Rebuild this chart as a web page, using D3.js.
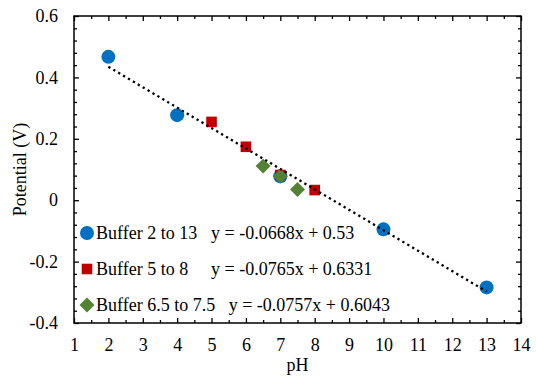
<!DOCTYPE html>
<html>
<head>
<meta charset="utf-8">
<script src="https://cdn.jsdelivr.net/npm/d3@7"></script>
<style>
  html, body { margin: 0; padding: 0; background: #fff; }
  svg { display: block; }
</style>
</head>
<body>
<svg id="chart" width="536" height="377"></svg>
<script>
// pH / potential readings for each buffer series
const wideBufferPH = [2, 4, 7, 10, 13];
const wideBufferV  = [0.467, 0.277, 0.078, -0.095, -0.284];
const midBufferPH  = [5, 6, 7, 8];
const midBufferV   = [0.255, 0.174, 0.082, 0.033];
const narrowBufferPH = [6.5, 7, 7.5];
const narrowBufferV  = [0.111, 0.078, 0.035];

// legend entries: series name and fitted equation text
const seriesNames = ["Buffer 2 to 13", "Buffer 5 to 8", "Buffer 6.5 to 7.5"];
const equations = ["y = -0.0668x + 0.53", "y = -0.0765x + 0.6331", "y = -0.0757x + 0.6043"];

// axis ticks
const xTicks = [1, 2, 3, 4, 5, 6, 7, 8, 9, 10, 11, 12, 13, 14];
const yTicks = [-0.4, -0.2, 0, 0.2, 0.4, 0.6];

(function () {
const SERIF = "'Liberation Serif', 'Times New Roman', serif";
const svg = d3.select("#chart").style("font-family", SERIF);
const plotL = 74, plotR = 521, plotT = 16, plotB = 323;
const FONT = 18;

const x = d3.scaleLinear().domain([1, 14]).range([plotL, plotR]);
const y = d3.scaleLinear().domain([-0.4, 0.6]).range([plotB, plotT]);

const xMinor = d3.range(0, 26).map(i => 1.5 + i * 0.5).filter(v => v < 14 && !Number.isInteger(v));
const yMinor = d3.range(0, 26).map(i => +(-0.4 + i * 0.04).toFixed(2)).filter(v => !yTicks.some(t => Math.abs(t - v) < 1e-9));

function strip(g) {
  g.attr("font-family", null).attr("font-size", null);
  g.select(".domain").remove();
  g.selectAll("line").attr("stroke", "#000").attr("stroke-width", 1.3);
  g.selectAll("text").style("font-family", SERIF).style("font-size", FONT + "px").attr("fill", "#000");
}

// bottom axis with labels, ticks pointing inward
svg.append("g").attr("transform", `translate(0,${plotB})`)
  .call(d3.axisBottom(x).tickValues(xTicks).tickSize(-5).tickPadding(15).tickFormat(d3.format("d")))
  .call(strip);
svg.append("g").attr("transform", `translate(0,${plotB})`)
  .call(d3.axisBottom(x).tickValues(xMinor).tickSize(-3).tickFormat(""))
  .call(strip);
// top axis ticks
svg.append("g").attr("transform", `translate(0,${plotT})`)
  .call(d3.axisTop(x).tickValues(xTicks).tickSize(-5).tickFormat(""))
  .call(strip);
svg.append("g").attr("transform", `translate(0,${plotT})`)
  .call(d3.axisTop(x).tickValues(xMinor).tickSize(-3).tickFormat(""))
  .call(strip);

// left axis with labels
svg.append("g").attr("transform", `translate(${plotL},0)`)
  .call(d3.axisLeft(y).tickValues(yTicks).tickSize(-5).tickPadding(16)
    .tickFormat(d => d === 0 ? "0" : d.toFixed(1)))
  .call(strip);
svg.append("g").attr("transform", `translate(${plotL},0)`)
  .call(d3.axisLeft(y).tickValues(yMinor).tickSize(-3).tickFormat(""))
  .call(strip);
// right axis ticks
svg.append("g").attr("transform", `translate(${plotR},0)`)
  .call(d3.axisRight(y).tickValues(yTicks).tickSize(-5).tickFormat(""))
  .call(strip);
svg.append("g").attr("transform", `translate(${plotR},0)`)
  .call(d3.axisRight(y).tickValues(yMinor).tickSize(-3).tickFormat(""))
  .call(strip);

// plot frame
svg.append("rect")
  .attr("x", plotL).attr("y", plotT).attr("width", plotR - plotL).attr("height", plotB - plotT)
  .attr("fill", "none").attr("stroke", "#000").attr("stroke-width", 1.5);

// axis titles
function label(sel) { return sel.style("font-family", SERIF).style("font-size", FONT + "px").attr("fill", "#000"); }
svg.append("text").attr("x", (plotL + plotR) / 2).attr("y", 371)
  .attr("text-anchor", "middle").call(label).text("pH");
svg.append("text").attr("transform", `translate(26,${(plotT + plotB) / 2}) rotate(-90)`)
  .attr("text-anchor", "middle").call(label).text("Potential (V)");

const BLUE = "#0070C0", RED = "#C00000", GREEN = "#538135";
const circlePath = d3.symbol(d3.symbolCircle, Math.PI * 7 * 7)();
const squarePath = d3.symbol(d3.symbolSquare, 10.6 * 10.6)();
const diamondPath = d3.symbol(d3.symbolSquare, 10.6 * 10.6)();

function drawSeries(xs, ys, path, color, rotate) {
  svg.append("g").selectAll("path").data(xs.map((px, i) => [px, ys[i]])).join("path")
    .attr("d", path)
    .attr("fill", color)
    .attr("transform", d => `translate(${x(d[0])},${y(d[1])})` + (rotate ? " rotate(45)" : ""));
}
drawSeries(wideBufferPH, wideBufferV, circlePath, BLUE, false);
drawSeries(midBufferPH, midBufferV, squarePath, RED, false);
drawSeries(narrowBufferPH, narrowBufferV, diamondPath, GREEN, true);

// least-squares trend line for the 2-13 buffer
const mx = d3.mean(wideBufferPH), my = d3.mean(wideBufferV);
const sxy = d3.sum(wideBufferPH, (v, i) => (v - mx) * (wideBufferV[i] - my));
const sxx = d3.sum(wideBufferPH, v => (v - mx) * (v - mx));
const slope = sxy / sxx, intercept = my - slope * mx;
const x0 = d3.min(wideBufferPH), x1 = d3.max(wideBufferPH);
svg.append("line")
  .attr("x1", x(x0)).attr("y1", y(slope * x0 + intercept))
  .attr("x2", x(x1)).attr("y2", y(slope * x1 + intercept))
  .attr("stroke", "#000").attr("stroke-width", 2.3).attr("stroke-dasharray", "2.3 3.4");

// legend inside the plot, lower left
const legendX = 87, legendY0 = 233, rowGap = 36, textX = 96, eqColumn = 211, eqGap = 13.5;
const legendShapes = [[circlePath, BLUE, false], [squarePath, RED, false], [diamondPath, GREEN, true]];
seriesNames.forEach((name, i) => {
  const cy = legendY0 + i * rowGap;
  const [p, c, rot] = legendShapes[i];
  svg.append("path").attr("d", p).attr("fill", c)
    .attr("transform", `translate(${legendX},${cy})` + (rot ? " rotate(45)" : ""));
  const t = svg.append("text").attr("x", textX).attr("y", cy).attr("dy", "0.35em")
    .call(label).text(name);
  const w = t.node().getComputedTextLength();
  svg.append("text").attr("x", Math.max(eqColumn, textX + w + eqGap)).attr("y", cy).attr("dy", "0.35em")
    .call(label).text(equations[i]);
});
})();
</script>
</body>
</html>
